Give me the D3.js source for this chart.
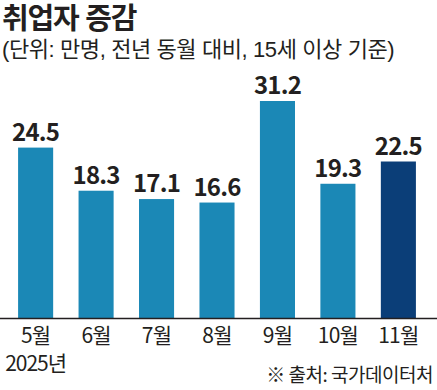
<!DOCTYPE html>
<html>
<head>
<meta charset="utf-8">
<script src="https://cdn.jsdelivr.net/npm/d3@7"></script>
<style>
  html, body { margin: 0; padding: 0; background: #fff; }
  svg { display: block; }
  text { fill: #231f20; font-family: 'Liberation Sans Narrow', 'Noto Sans CJK KR', sans-serif; }
</style>
</head>
<body>
<div id="chart"></div>
<script>
const months = ['5월', '6월', '7월', '8월', '9월', '10월', '11월']
const values = [24.5, 18.3, 17.1, 16.6, 31.2, 19.3, 22.5]
const highlight = '11월'

const width = 437
const height = 390
const baseline = 318

const svg = d3.select('#chart').append('svg')
  .attr('width', width)
  .attr('height', height)

// title block
svg.append('text')
  .attr('x', 2)
  .attr('y', 29)
  .style('font-family', "'Liberation Sans', 'Noto Sans CJK KR', sans-serif")
  .style('font-weight', 700)
  .style('font-size', '29px')
  .attr('letter-spacing', -1.2)
  .text('취업자 증감')

svg.append('text')
  .attr('x', 2)
  .attr('y', 57)
  .style('font-family', "'Liberation Sans', 'Noto Sans CJK KR', sans-serif")
  .style('font-size', '22px')
  .attr('letter-spacing', -0.4)
  .text('(단위: 만명, 전년 동월 대비, 15세 이상 기준)')

const x = d3.scaleBand()
  .domain(months)
  .range([6, 428])
  .paddingInner(0.42)
  .paddingOuter(0.2)

const y = d3.scaleLinear()
  .domain([0, 31.2])
  .range([baseline, 101])

const bar = svg.selectAll('g.bar')
  .data(months.map((m, i) => ({ month: m, value: values[i] })))
  .enter()
  .append('g')
  .attr('class', 'bar')

bar.append('rect')
  .attr('x', d => x(d.month))
  .attr('y', d => y(d.value))
  .attr('width', x.bandwidth())
  .attr('height', d => baseline - y(d.value))
  .attr('fill', d => d.month === highlight ? '#0b3e78' : '#1b88b6')

bar.append('text')
  .attr('x', d => x(d.month) + x.bandwidth() / 2)
  .attr('y', d => y(d.value) - 7)
  .attr('text-anchor', 'middle')
  .style('font-weight', 700)
  .style('font-size', '24px')
  .attr('letter-spacing', -0.8)
  .text(d => d.value.toFixed(1))

// baseline
svg.append('line')
  .attr('x1', 0)
  .attr('x2', width)
  .attr('y1', baseline + 0.5)
  .attr('y2', baseline + 0.5)
  .attr('stroke', '#231f20')
  .attr('stroke-width', 1.5)

const xAxis = svg.append('g')
  .attr('transform', 'translate(0,' + baseline + ')')
  .call(d3.axisBottom(x).tickSize(0).tickPadding(0))

xAxis.select('.domain').remove()
xAxis.selectAll('text')
  .attr('y', 25)
  .attr('dy', 0)
  .style('font-size', '21px')
  .style('fill', '#231f20')
  .style('font-family', "'Liberation Sans Narrow', 'Noto Sans CJK KR', sans-serif")
  .attr('letter-spacing', -0.8)

svg.append('text')
  .attr('x', x(months[0]) + x.bandwidth() / 2)
  .attr('y', 371)
  .attr('text-anchor', 'middle')
  .style('font-size', '21px')
  .attr('letter-spacing', -1)
  .text('2025년')

svg.append('text')
  .attr('x', 433)
  .attr('y', 382)
  .attr('text-anchor', 'end')
  .style('font-size', '19px')
  .attr('letter-spacing', -0.5)
  .text('※ 출처: 국가데이터처')
</script>
</body>
</html>
